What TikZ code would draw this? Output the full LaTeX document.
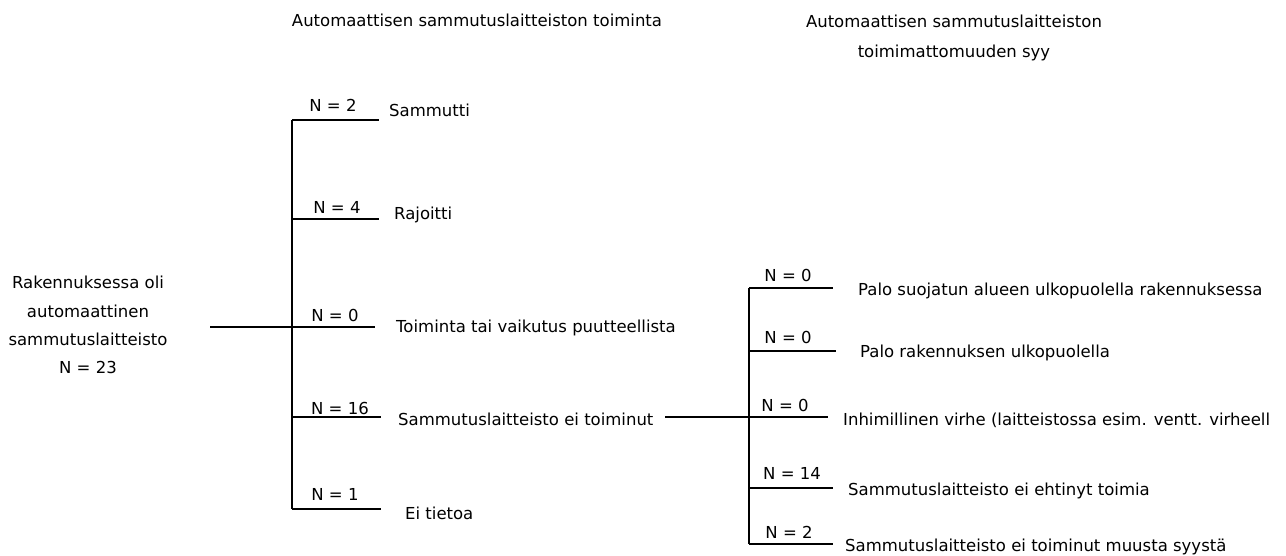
\documentclass[tikz,border=0pt]{standalone}
\usepackage{fontspec}
\setmainfont{DejaVu Sans}
\begin{document}
\begin{tikzpicture}[x=1pt,y=-1pt,
  lnthin/.style={line width=1.3pt},
  lnthick/.style={line width=2.3pt},
  txt/.style={font=\fontsize{16.5}{20}\selectfont, inner sep=0pt},
  lbl/.style={txt, anchor=base west},
  nlbl/.style={txt, anchor=base}]
\useasboundingbox (0,0) rectangle (1286,556);
% headers
\node[txt, anchor=base] (h1) at (477,27) {Automaattisen sammutuslaitteiston toiminta};
\node[txt, align=center, font=\fontsize{16.5}{30}\selectfont, anchor=center] (h2) at (954,38)
  {Automaattisen sammutuslaitteiston\\toimimattomuuden syy};
% root
\node[txt, align=center, font=\fontsize{16.5}{28.3}\selectfont, anchor=center] (root) at (88,325)
  {Rakennuksessa oli\\automaattinen\\sammutuslaitteisto\\N = 23};
% left tree coordinates
\coordinate (M0) at (210,327);
\coordinate (A1) at (292,120);
\coordinate (A2) at (292,219);
\coordinate (A3) at (292,327);
\coordinate (A4) at (292,417);
\coordinate (A5) at (292,509);
\coordinate (B1) at (379,120);
\coordinate (B2) at (379,219);
\coordinate (B3) at (375,327);
\coordinate (B4) at (381,417);
\coordinate (B5) at (381,509);
\draw[lnthick] (M0) -- (A3);
\draw[lnthin] (A1) -- (A2);
\draw[lnthick] (A2) -- (A4);
\draw[lnthin] (A4) -- (A5);
\draw[lnthin] (A1) -- (B1);
\draw[lnthin] (A2) -- (B2);
\draw[lnthin] (A3) -- (B3);
\draw[lnthin] (A4) -- (B4);
\draw[lnthin] (A5) -- (B5);
\node[nlbl] (n1) at (333,112) {N = 2};
\node[nlbl] (n2) at (337,214) {N = 4};
\node[nlbl] (n3) at (335,321) {N = 0};
\node[nlbl] (n4) at (340,414) {N = 16};
\node[nlbl] (n5) at (335,500) {N = 1};
\node[lbl] (t1) at (389,117) {Sammutti};
\node[lbl] (t2) at (394,220) {Rajoitti};
\node[lbl] (t3) at (396,332) {Toiminta tai vaikutus puutteellista};
\node[lbl] (t4) at (398,425) {Sammutuslaitteisto ei toiminut};
\node[lbl] (t5) at (405,519) {Ei tietoa};
% right tree
\coordinate (K0) at (665,417);
\coordinate (C1) at (749,288);
\coordinate (C2) at (749,351);
\coordinate (C3) at (749,417);
\coordinate (C4) at (749,488);
\coordinate (C5) at (749,544);
\coordinate (D1) at (833,288);
\coordinate (D2) at (836,351);
\coordinate (D3) at (828,417);
\coordinate (D4) at (833,488);
\coordinate (D5) at (833,544);
\draw[lnthick] (K0) -- (C3);
\draw[lnthin] (C1) -- (C2);
\draw[lnthick] (C2) -- (C4);
\draw[lnthin] (C4) -- (C5);
\draw[lnthin] (C1) -- (D1);
\draw[lnthin] (C2) -- (D2);
\draw[lnthin] (C3) -- (D3);
\draw[lnthin] (C4) -- (D4);
\draw[lnthin] (C5) -- (D5);
\node[nlbl] (r1) at (788,282) {N = 0};
\node[nlbl] (r2) at (788,344) {N = 0};
\node[nlbl] (r3) at (785,411) {N = 0};
\node[nlbl] (r4) at (792,479) {N = 14};
\node[nlbl] (r5) at (789,538) {N = 2};
\node[lbl] (s1) at (858,295) {Palo suojatun alueen ulkopuolella rakennuksessa};
\node[lbl] (s2) at (860,357) {Palo rakennuksen ulkopuolella};
\node[lbl] (s3) at (843,425) {Inhimillinen virhe (laitteistossa esim. ventt. virheell};
\node[lbl] (s4) at (848,495) {Sammutuslaitteisto ei ehtinyt toimia};
\node[lbl] (s5) at (845,551) {Sammutuslaitteisto ei toiminut muusta syystä};
\end{tikzpicture}
\end{document}
